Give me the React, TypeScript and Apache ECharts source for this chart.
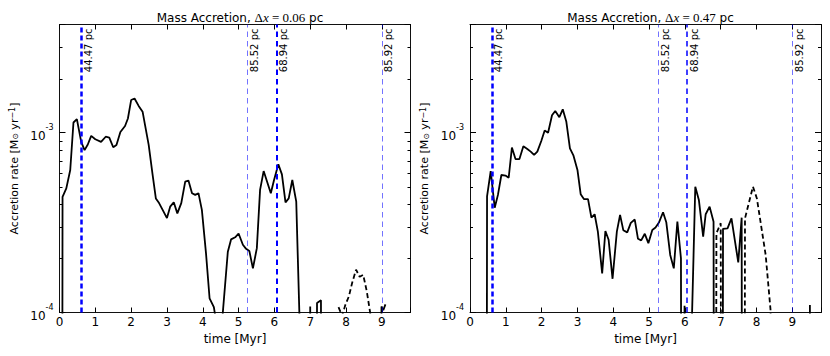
import React, { useEffect, useRef } from "react";
import * as echarts from "echarts";

// ---------- data ----------
const panelResolutions = ["0.06", "0.47"];
const xTickStep = 1;
const xRange = [0, 9.8];
const yRange = [1e-4, 4e-3];
const yMinorTicks = [2e-4, 3e-4, 4e-4, 5e-4, 6e-4, 7e-4, 8e-4, 9e-4, 2e-3, 3e-3];

const markerTimes = [0.606, 5.25, 6.06, 9.0];
const markerLabels = ["44.47 pc", "85.52 pc", "68.94 pc", "85.92 pc"];
const markerWidthsLeft = [2.5, 1, 2, 1];
const markerWidthsRight = [2.5, 1, 1.5, 1];

// left panel (dx = 0.06 pc): [time Myr, accretion rate Msun/yr]; 1e-6 = below plotted range
const leftSolid: [number, number][] = [
  [0.07, 1e-6], [0.085, 4.4e-4], [0.19, 4.9e-4], [0.3, 6.2e-4], [0.39, 1.14e-3], [0.485, 1.19e-3],
  [0.606, 8.9e-4], [0.7, 8.0e-4], [0.79, 8.6e-4], [0.885, 9.6e-4], [1.0, 9.2e-4], [1.16, 8.9e-4],
  [1.29, 9.5e-4], [1.39, 9.4e-4], [1.5, 8.3e-4], [1.59, 8.55e-4], [1.7, 1.01e-3], [1.83, 1.09e-3],
  [1.91, 1.2e-3], [2.0, 1.52e-3], [2.095, 1.55e-3], [2.21, 1.41e-3], [2.32, 1.31e-3], [2.39, 1.1e-3],
  [2.49, 8.55e-4], [2.6, 5.82e-4], [2.69, 4.31e-4], [2.78, 4.06e-4], [2.88, 3.72e-4], [3.0, 3.35e-4],
  [3.09, 3.88e-4], [3.19, 4.1e-4], [3.29, 3.56e-4], [3.4, 4.06e-4], [3.51, 5.35e-4], [3.6, 5.42e-4],
  [3.7, 4.61e-4], [3.79, 4.51e-4], [3.88, 4.61e-4], [3.975, 3.72e-4], [4.09, 2.14e-4], [4.19, 1.2e-4],
  [4.31, 1.07e-4], [4.37, 9.0e-5], [4.46, 5e-5], [4.56, 1.0e-4], [4.7, 2.18e-4], [4.79, 2.55e-4],
  [4.905, 2.62e-4], [5.0, 2.75e-4], [5.12, 2.38e-4], [5.21, 2.26e-4], [5.3, 2.2e-4], [5.4, 1.76e-4],
  [5.51, 2.28e-4], [5.6, 4.81e-4], [5.7, 6.12e-4], [5.81, 5.24e-4], [5.9, 4.61e-4], [5.99, 5.46e-4],
  [6.11, 6.67e-4], [6.21, 5.87e-4], [6.31, 4.1e-4], [6.4, 4.31e-4], [6.5, 5.46e-4], [6.61, 4.14e-4],
  [6.7, 9.5e-5], [6.8, 1e-6], [6.97, 1e-6], [7.0, 1.08e-4], [7.03, 1e-6], [7.17, 1e-6],
  [7.19, 1.13e-4], [7.3, 1.17e-4], [7.32, 1e-6], [8.96, 1e-6], [8.99, 1.08e-4], [9.04, 1.03e-4],
  [9.1, 1.11e-4],
];
const leftDashed: [number, number][] = [
  [7.79, 1.07e-4], [7.89, 9.6e-5], [7.98, 1.1e-4], [8.08, 1.23e-4], [8.17, 1.46e-4], [8.28, 1.73e-4],
  [8.38, 1.58e-4], [8.48, 1.62e-4], [8.58, 1.31e-4], [8.68, 9.8e-5], [8.72, 5e-5],
];

// right panel (dx = 0.47 pc)
const rightSolid: [number, number][] = [
  [0.46, 1e-6], [0.476, 4.42e-4], [0.578, 6.12e-4], [0.69, 3.83e-4], [0.78, 4.51e-4], [0.876, 5.82e-4],
  [0.99, 5.78e-4], [1.08, 5.62e-4], [1.17, 8.27e-4], [1.27, 7.14e-4], [1.38, 7.14e-4], [1.49, 8.4e-4],
  [1.6, 8.12e-4], [1.695, 7.85e-4], [1.79, 7.52e-4], [1.88, 7.85e-4], [1.99, 9.0e-4], [2.085, 1.03e-3],
  [2.18, 1.0e-3], [2.29, 1.25e-3], [2.38, 1.32e-3], [2.495, 1.22e-3], [2.59, 1.35e-3], [2.69, 1.15e-3],
  [2.79, 8.18e-4], [2.89, 7.45e-4], [3.0, 6.21e-4], [3.09, 4.55e-4], [3.18, 4.28e-4], [3.295, 4.27e-4],
  [3.39, 3.37e-4], [3.48, 3.52e-4], [3.57, 2.82e-4], [3.69, 1.65e-4], [3.78, 2.84e-4], [3.87, 2.54e-4],
  [3.98, 1.54e-4], [4.1, 2.82e-4], [4.19, 3.49e-4], [4.28, 2.87e-4], [4.39, 2.79e-4], [4.49, 3.15e-4],
  [4.6, 3.29e-4], [4.69, 2.57e-4], [4.78, 2.52e-4], [4.88, 2.74e-4], [4.98, 2.43e-4], [5.09, 2.88e-4],
  [5.18, 2.97e-4], [5.28, 3.18e-4], [5.39, 3.61e-4], [5.48, 3.18e-4], [5.59, 2.09e-4], [5.69, 1.76e-4],
  [5.79, 3.2e-4], [5.89, 2.0e-4], [5.91, 1e-6], [5.97, 1e-6], [5.99, 1.09e-4], [6.01, 1e-6],
  [6.1, 1e-6], [6.2, 9.8e-5], [6.29, 5.01e-4], [6.39, 4.23e-4], [6.51, 2.64e-4], [6.58, 3.52e-4],
  [6.69, 3.88e-4], [6.8, 3.2e-4], [6.82, 1e-6], [7.05, 1e-6], [7.064, 2.92e-4], [7.19, 2.94e-4],
  [7.3, 3.34e-4], [7.4, 2.48e-4], [7.49, 1.9e-4], [7.585, 3.37e-4], [7.6, 1e-6], [9.47, 1e-6],
  [9.49, 1.1e-4], [9.51, 1e-6],
];
const rightDashed: [number, number][] = [
  [6.86, 1e-6], [6.88, 2.76e-4], [7.0, 3.14e-4], [7.02, 1e-6], [7.66, 1e-6], [7.678, 3.34e-4],
  [7.9, 5.01e-4], [8.01, 4.31e-4], [8.255, 2.09e-4], [8.39, 1.04e-4], [8.42, 5e-5],
];

// ---------- styling ----------
const FONT = "DejaVu Sans";
const SERIF = "Liberation Serif";
const grids = [
  { left: 59.5, top: 24.5, width: 351, height: 288 },
  { left: 470, top: 24.5, width: 351, height: 288 },
];

function yLabel(v: number) {
  const e = Math.log10(v);
  const r = Math.round(e);
  if (Math.abs(e - r) > 1e-6) return "";
  return `{b|10}{s|${r}}`;
}

function markerStyle(w: number) {
  if (w >= 2.4) return { color: "#0000ff", width: w, type: [5, 3] };
  if (w >= 1.4) return { color: "#0000ff", width: w, type: [5.5, 4] };
  return { color: "rgba(0,0,255,0.55)", width: w, type: [5.5, 4] };
}

function buildOption() {
  const xAxis: any[] = [];
  const yAxis: any[] = [];
  const series: any[] = [];
  const title: any[] = [];
  const panels = [
    { solid: leftSolid, dashed: leftDashed, widths: markerWidthsLeft },
    { solid: rightSolid, dashed: rightDashed, widths: markerWidthsRight },
  ];
  panels.forEach((p, gi) => {
    const g = grids[gi];
    const axisLine = { show: true, onZero: false, lineStyle: { color: "#111", width: 1 } };
    xAxis.push({
      gridIndex: gi, type: "value", position: "bottom", min: xRange[0], max: xRange[1], interval: xTickStep,
      axisLine, axisTick: { show: true, inside: true, length: 5, lineStyle: { color: "#000", width: 1 } },
      axisLabel: {
        show: true, margin: 3, fontSize: 12, color: "#000", fontFamily: FONT,
        formatter: (v: number) => (Math.abs(v - Math.round(v)) < 1e-9 ? String(Math.round(v)) : ""),
      },
      splitLine: { show: false },
      name: "time [Myr]", nameLocation: "middle", nameGap: 20,
      nameTextStyle: { fontSize: 12, color: "#000", fontFamily: FONT },
    });
    xAxis.push({
      gridIndex: gi, type: "value", position: "top", min: xRange[0], max: xRange[1], interval: xTickStep,
      axisLine, axisTick: { show: true, inside: true, length: 5, lineStyle: { color: "#000", width: 1 } },
      axisLabel: { show: false }, splitLine: { show: false },
    });
    yAxis.push({
      gridIndex: gi, type: "log", logBase: 10, position: "left", min: yRange[0], max: yRange[1],
      axisLine, axisTick: { show: true, inside: true, length: 6, lineStyle: { color: "#000", width: 1 } },
      axisLabel: {
        show: true, margin: 6, color: "#000", fontFamily: FONT, formatter: yLabel,
        rich: {
          b: { fontSize: 12, fontFamily: FONT, color: "#000", lineHeight: 18, verticalAlign: "bottom" },
          s: { fontSize: 8, fontFamily: FONT, color: "#000", lineHeight: 10, verticalAlign: "top" },
        },
      },
      splitLine: { show: false },
      name: "Accretion rate [M{sub|⊙} yr{sup|−1}]",
      nameLocation: "middle", nameGap: 40, nameRotate: 90,
      nameTextStyle: {
        fontSize: 11, color: "#000", fontFamily: FONT,
        rich: {
          sub: { fontSize: 8, fontFamily: FONT, color: "#000", verticalAlign: "bottom", lineHeight: 10 },
          sup: { fontSize: 8, fontFamily: FONT, color: "#000", verticalAlign: "top", lineHeight: 10 },
        },
      },
    });
    yAxis.push({
      gridIndex: gi, type: "log", logBase: 10, position: "right", min: yRange[0], max: yRange[1],
      axisLine, axisTick: { show: true, inside: true, length: 6, lineStyle: { color: "#000", width: 1 } },
      axisLabel: { show: false }, splitLine: { show: false },
    });
    const xi = gi * 2;
    const yi = gi * 2;
    series.push({
      type: "line", xAxisIndex: xi, yAxisIndex: yi, data: p.solid, showSymbol: false, symbol: "none",
      clip: true, lineStyle: { color: "#000", width: 1.8 }, z: 3,
      markLine: {
        silent: true, symbol: ["none", "none"], label: { show: false },
        data: markerTimes.map((t, i) => ({ xAxis: t, lineStyle: markerStyle(p.widths[i]) })),
      },
    });
    series.push({
      type: "line", xAxisIndex: xi, yAxisIndex: yi, data: p.dashed, showSymbol: false, symbol: "none",
      clip: true, lineStyle: { color: "#000", width: 1.8, type: [5, 3] }, z: 3,
    });
    // minor log ticks on both y spines
    series.push({
      type: "custom", xAxisIndex: xi, yAxisIndex: yi, silent: true, z: 4,
      data: yMinorTicks.map((v) => [xRange[0], v]),
      renderItem: (params: any, api: any) => {
        const cs = params.coordSys;
        const y = Math.round(api.coord([api.value(0), api.value(1)])[1]) + 0.5;
        return {
          type: "group",
          children: [
            { type: "line", shape: { x1: cs.x, y1: y, x2: cs.x + 3, y2: y }, style: { stroke: "#000", lineWidth: 1 } },
            { type: "line", shape: { x1: cs.x + cs.width - 3, y1: y, x2: cs.x + cs.width, y2: y }, style: { stroke: "#000", lineWidth: 1 } },
          ],
        };
      },
    });
    // rotated labels of the marker lines
    series.push({
      type: "custom", xAxisIndex: xi, yAxisIndex: yi, silent: true, z: 5,
      data: markerTimes.map((t) => [t, yRange[1]]),
      renderItem: (params: any, api: any) => {
        const cs = params.coordSys;
        const pt = api.coord([api.value(0), api.value(1)]);
        return {
          type: "text", x: pt[0] + 2, y: cs.y + 4, rotation: Math.PI / 2,
          style: {
            text: markerLabels[params.dataIndex], fontSize: 10, fontFamily: FONT, fill: "#000",
            align: "right", verticalAlign: "top",
          },
        };
      },
    });
    title.push({
      text: `{a|Mass Accretion, }{m|Δ}{i|x}{m| = ${panelResolutions[gi]}}{a| pc}`,
      left: g.left + g.width / 2, top: 6, textAlign: "center",
      textStyle: {
        fontSize: 12, fontWeight: "normal", color: "#000",
        rich: {
          a: { fontSize: 12, fontFamily: FONT, color: "#000" },
          m: { fontSize: 13, fontFamily: SERIF, color: "#000" },
          i: { fontSize: 13, fontFamily: SERIF, fontStyle: "italic", color: "#000" },
        },
      },
    });
  });
  return {
    animation: false,
    backgroundColor: "#fff",
    title,
    grid: grids.map((g) => ({ ...g, containLabel: false })),
    xAxis,
    yAxis,
    series,
  };
}

export default function App() {
  const ref = useRef<HTMLDivElement>(null);
  useEffect(() => {
    if (!ref.current) return;
    const chart = echarts.init(ref.current, undefined, { renderer: "svg" });
    chart.setOption(buildOption() as any);
    return () => chart.dispose();
  }, []);
  return (
    <div
      ref={ref}
      style={{ position: "absolute", left: 0, top: 0, width: 830, height: 356, background: "#fff" }}
    />
  );
}
